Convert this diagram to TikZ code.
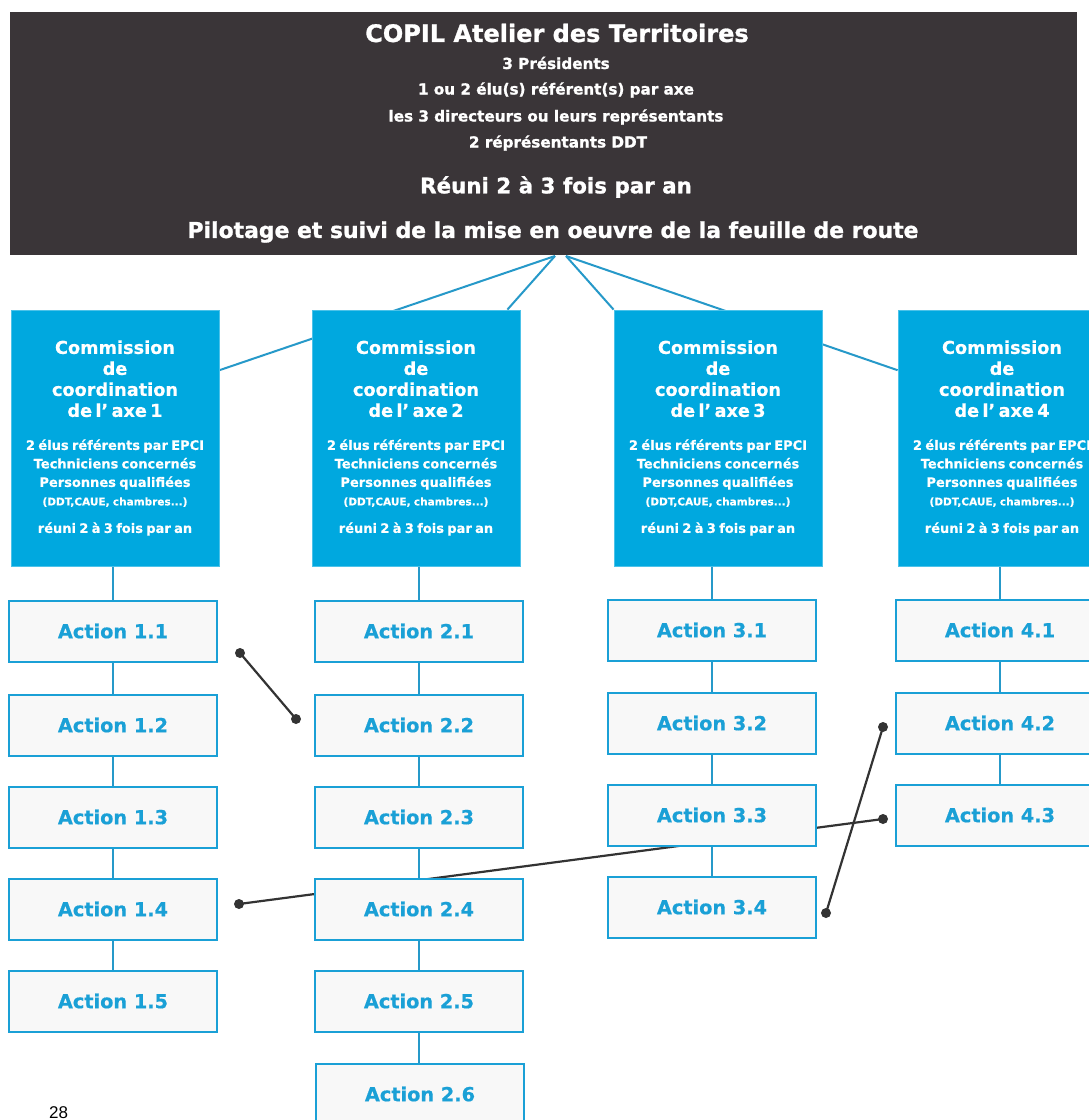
\documentclass[tikz,border=0pt]{standalone}
\usepackage{fontspec}
\setmainfont{DejaVu Sans}
\newfontfamily\pagefont{Liberation Sans}
\newfontfamily\heavy[FakeBold=1.2]{DejaVu Sans Bold}
\newfontfamily\semiheavy[FakeBold=0.5]{DejaVu Sans Bold}
\usetikzlibrary{backgrounds,calc}
\definecolor{hdrbg}{HTML}{3A3538}
\definecolor{cblue}{HTML}{00A8DF}
\definecolor{ablue}{HTML}{1AA0D6}
\definecolor{lblue}{HTML}{2699C9}
\definecolor{abox}{HTML}{F8F8F8}
\definecolor{dk}{HTML}{333333}
\newcommand\commtxt[1]{%
\fontsize{17.7}{21}\selectfont Commission\\de\\coordination\\de l’ axe #1\\[14.5pt]%
\fontsize{13}{18.5}\selectfont 2 élus référents par EPCI\\Techniciens concernés\\Personnes qualifiées\\%
{\fontsize{10.5}{18.5}\selectfont (DDT,CAUE, chambres...)}\\[15.5pt]%
réuni 2 à 3 fois par an}
\begin{document}
\begin{tikzpicture}[x=1pt,y=-1pt,
 hdrtxt/.style={text=white, inner sep=0pt},
 comm/.style={fill=cblue, draw=cblue!70!white, line width=0.8pt, minimum width=208pt, minimum height=256pt, inner sep=0pt, text width=208pt, text=white, align=center, font=\semiheavy},
 act/.style={draw=ablue, line width=2pt, fill=abox, minimum width=208pt, minimum height=61pt, inner sep=0pt, text=ablue, font=\semiheavy\fontsize{19.3}{23}\selectfont},
 bconn/.style={draw=lblue, line width=2pt},
 kconn/.style={draw=dk, line width=2.2pt},
 kdot/.style={fill=dk}]
\useasboundingbox (0,0) rectangle (1089,1120);

% header
\node[fill=hdrbg, minimum width=1067pt, minimum height=243pt, inner sep=0pt] (copil) at (543.5,133.5) {};
\node[hdrtxt, font=\heavy\fontsize{24}{28}\selectfont] (h0) at (557,33) {COPIL Atelier des Territoires};
\node[hdrtxt, font=\heavy\fontsize{15.2}{18}\selectfont] (h1) at (556,63) {3 Présidents};
\node[hdrtxt, font=\heavy\fontsize{15.2}{18}\selectfont] (h2) at (556,90) {1 ou 2 élu(s) référent(s) par axe};
\node[hdrtxt, font=\heavy\fontsize{15.2}{18}\selectfont] (h3) at (556,117) {les 3 directeurs ou leurs représentants};
\node[hdrtxt, font=\heavy\fontsize{15.2}{18}\selectfont] (h4) at (558,143) {2 réprésentants DDT};
\node[hdrtxt, font=\heavy\fontsize{21.4}{25}\selectfont] (h5) at (556,187) {Réuni 2 à 3 fois par an};
\node[hdrtxt, font=\heavy\fontsize{21.9}{26}\selectfont] (h6) at (553,232) {Pilotage et suivi de la mise en oeuvre de la feuille de route};

\coordinate (apexL) at (555,256);
\coordinate (apexR) at (566,256);

% commissions
\node[comm] (c1) at (115,438) {\commtxt{1}};
\node[comm] (c2) at (416,438) {\commtxt{2}};
\node[comm] (c3) at (718,438) {\commtxt{3}};
\node[comm] (c4) at (1002,438) {\commtxt{4}};

% actions
\node[act] (a11) at (113,631) {Action 1.1};
\node[act] (a12) at (113,725) {Action 1.2};
\node[act] (a13) at (113,817) {Action 1.3};
\node[act] (a14) at (113,909) {Action 1.4};
\node[act] (a15) at (113,1001) {Action 1.5};

\node[act] (a21) at (419,631) {Action 2.1};
\node[act] (a22) at (419,725) {Action 2.2};
\node[act] (a23) at (419,817) {Action 2.3};
\node[act] (a24) at (419,909) {Action 2.4};
\node[act] (a25) at (419,1001) {Action 2.5};
\node[act] (a26) at (420,1094) {Action 2.6};

\node[act] (a31) at (712,630) {Action 3.1};
\node[act] (a32) at (712,723) {Action 3.2};
\node[act] (a33) at (712,815) {Action 3.3};
\node[act] (a34) at (712,907) {Action 3.4};

\node[act] (a41) at (1000,630) {Action 4.1};
\node[act] (a42) at (1000,723) {Action 4.2};
\node[act] (a43) at (1000,815) {Action 4.3};

\node[font=\pagefont\fontsize{17}{20}\selectfont, inner sep=0pt, anchor=base west] (pg) at (49,1118) {28};

\coordinate (d1) at (240,653);
\coordinate (d2) at (296,719);
\coordinate (d3) at (239,904);
\coordinate (d4) at (883,819);
\coordinate (d5) at (826,913);
\coordinate (d6) at (883,727);

\begin{pgfonlayer}{background}
\fill[white] (0,0) rectangle (1089,1120);
% COPIL to commissions
\draw[bconn] (apexL) -- (c1.33);
\draw[bconn] (apexL) -- ($(c2.north east)+(-13,0)$);
\draw[bconn] (apexR) -- (c3.north west);
\draw[bconn] (apexR) -- (c4.147.6);
% commission to first action
\draw[bconn] (c1.south -| a11.north) -- (a11.north);
\draw[bconn] (c2.south -| a21.north) -- (a21.north);
\draw[bconn] (c3.south -| a31.north) -- (a31.north);
\draw[bconn] (c4.south -| a41.north) -- (a41.north);
% action chains
\draw[bconn] (a11.south) -- (a12.north) (a12.south) -- (a13.north) (a13.south) -- (a14.north) (a14.south) -- (a15.north);
\draw[bconn] (a21.south) -- (a22.north) (a22.south) -- (a23.north) (a23.south) -- (a24.north) (a24.south) -- (a25.north) (a25.south) -- (a26.north -| a25.south);
\draw[bconn] (a31.south) -- (a32.north) (a32.south) -- (a33.north) (a33.south) -- (a34.north);
\draw[bconn] (a41.south) -- (a42.north) (a42.south) -- (a43.north);
% black links
\draw[kconn] (d1) -- (d2);
\draw[kconn] (d3) -- (d4);
\draw[kconn] (d5) -- (d6);
\fill[kdot] (d1) circle (5pt) (d2) circle (5pt) (d3) circle (5pt) (d4) circle (5pt) (d5) circle (5pt) (d6) circle (5pt);
\end{pgfonlayer}
\end{tikzpicture}
\end{document}
